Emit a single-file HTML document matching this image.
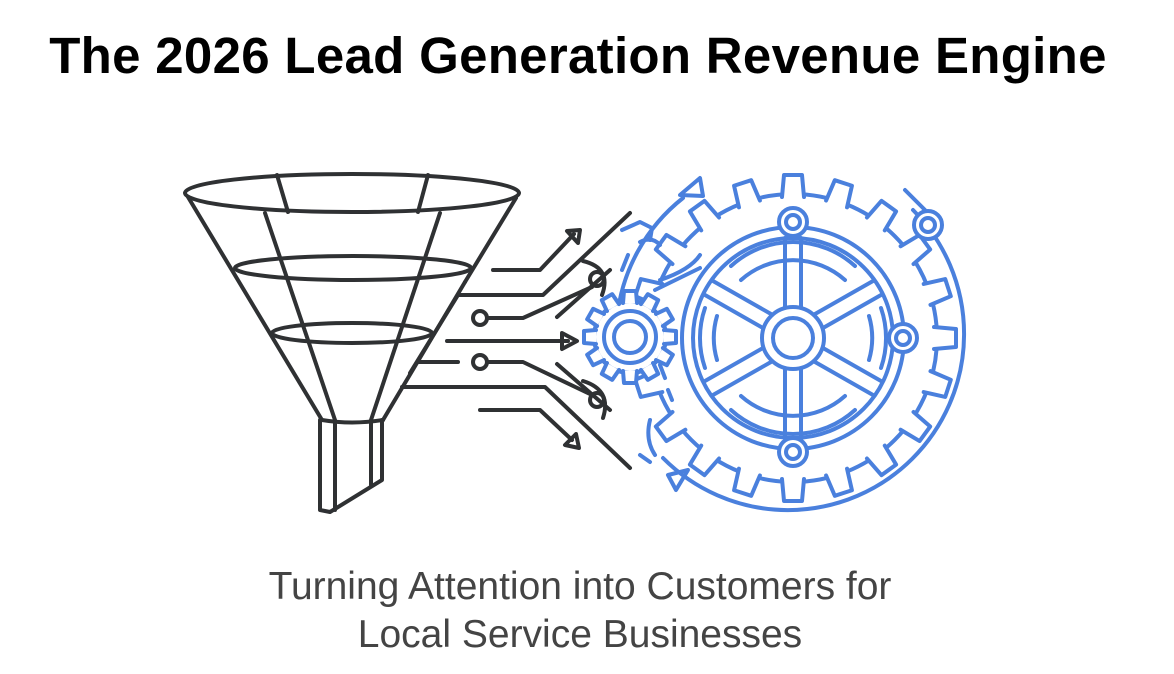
<!DOCTYPE html>
<html><head><meta charset="utf-8"><style>
html,body{margin:0;padding:0;background:#fff;}
body{width:1174px;height:674px;position:relative;overflow:hidden;font-family:"Liberation Sans",sans-serif;}
h1{position:absolute;top:26px;left:0;width:1156px;text-align:center;margin:0;font-size:51px;font-weight:bold;color:#000;letter-spacing:0.3px;}
.sub{position:absolute;top:563px;left:0;width:1160px;text-align:center;font-size:39px;color:#444;line-height:48px;font-weight:normal;}
svg{position:absolute;left:0;top:0;}
</style></head><body>
<h1>The 2026 Lead Generation Revenue Engine</h1>
<svg width="1174" height="674" viewBox="0 0 1174 674">
<defs>
<path id="t" fill="#fff" d="M-11 -141 L-9 -163 L9 -163 L11 -141"/>
<path id="s" fill="#fff" d="M-7 -34 L-6 -46 L6 -46 L7 -34"/>
</defs>
<g fill="none" stroke="#2f3133" stroke-width="4" stroke-linecap="round" stroke-linejoin="round">
<ellipse cx="352" cy="193" rx="167" ry="19"/>
<path d="M188 197 L322 420 M516 198 L465 282"/>
<path d="M465 282 L383 420"/>
<path d="M277 175 L288 212 M428 175 L418 212 M265 213 L335 420 M440 213 L371 420"/>
<ellipse cx="353" cy="268" rx="118" ry="12"/>
<ellipse cx="352" cy="333" rx="80" ry="10"/>
<path d="M322 420 Q352 425 383 420"/>
<path d="M320 420 L320 510 L330 512 L382 480 L382 420 M335 422 L335 510 M371 422 L371 485"/>
<path d="M493 270 L540 270 L574 234 M567 231 L580 230 L578 243 Z"/>
<path d="M458 295 L543 295 L630 213 M458 295 L410 373"/>
<circle cx="480" cy="318" r="7"/>
<path d="M487 318 L523 318 L592 287"/>
<circle cx="597" cy="279" r="7"/>
<path d="M583 261 Q612 268 602 295 M557 317 L610 270"/>
<path d="M447 341 L568 341 M562 333 L577 341 L562 349 Z"/>
<path d="M418 362 L458 362"/>
<circle cx="480" cy="362" r="7"/>
<path d="M487 362 L523 362 L592 395"/>
<circle cx="597" cy="400" r="7"/>
<path d="M583 381 Q612 390 603 418 M557 364 L610 410"/>
<path d="M402 387 L545 387 L630 468"/>
<path d="M480 410 L540 410 L572 440 M565 445 L579 448 L576 434 Z"/>
</g>
<g fill="none" stroke="#4a80dd" stroke-width="4" stroke-linecap="round" stroke-linejoin="round">
<g transform="translate(793,338)">
<path d="M-176 -20 A176 176 0 0 1 -110 -140 M120 -128 A176 176 0 0 1 -130 120"/>
<circle r="144" fill="#fff"/>
<use href="#t"/><use href="#t" transform="rotate(18)"/><use href="#t" transform="rotate(36)"/><use href="#t" transform="rotate(54)"/><use href="#t" transform="rotate(72)"/><use href="#t" transform="rotate(90)"/><use href="#t" transform="rotate(108)"/><use href="#t" transform="rotate(126)"/><use href="#t" transform="rotate(144)"/><use href="#t" transform="rotate(162)"/><use href="#t" transform="rotate(180)"/><use href="#t" transform="rotate(198)"/><use href="#t" transform="rotate(216)"/><use href="#t" transform="rotate(234)"/><use href="#t" transform="rotate(252)"/><use href="#t" transform="rotate(270)"/><use href="#t" transform="rotate(288)"/><use href="#t" transform="rotate(306)"/><use href="#t" transform="rotate(324)"/><use href="#t" transform="rotate(342)"/>
<circle r="111"/>
<circle r="100"/>
<circle r="31"/><circle r="20"/>
<path d="M-8 -31 L-8 -100 M8 -31 L8 -100 M-8 31 L-8 100 M8 31 L8 100"/>
<path d="M22 -24 L80 -57 M30 -10 L88 -43 M-22 -24 L-80 -57 M-30 -10 L-88 -43 M22 24 L80 57 M30 10 L88 43 M-22 24 L-80 57 M-30 10 L-88 43"/>
<path d="M-62 -72 A92 92 0 0 1 62 -72 M-88 -30 A92 92 0 0 0 -88 30 M88 -30 A92 92 0 0 1 88 30 M-62 72 A92 92 0 0 0 62 72"/>
<path d="M-52 -58 A78 78 0 0 1 52 -58 M-76 -22 A78 78 0 0 0 -76 22 M76 -22 A78 78 0 0 1 76 22 M-52 58 A78 78 0 0 0 52 58"/>
<circle cx="0" cy="-116" r="14" fill="#fff"/><circle cx="0" cy="-116" r="7"/>
<circle cx="110" cy="0" r="14" fill="#fff"/><circle cx="110" cy="0" r="7"/>
<circle cx="0" cy="114" r="14" fill="#fff"/><circle cx="0" cy="114" r="7"/>
</g>
<path d="M680 195 L700 178 L703 196 Z"/>
<path d="M668 475 L688 470 L676 490 Z"/>
<circle cx="928" cy="225" r="14" fill="#fff"/><circle cx="928" cy="225" r="7"/>
<path d="M905 190 L925 210"/>
<g transform="translate(630,337)">
<circle r="36" fill="#fff"/>
<use href="#s"/><use href="#s" transform="rotate(30)"/><use href="#s" transform="rotate(60)"/><use href="#s" transform="rotate(90)"/><use href="#s" transform="rotate(120)"/><use href="#s" transform="rotate(150)"/><use href="#s" transform="rotate(180)"/><use href="#s" transform="rotate(210)"/><use href="#s" transform="rotate(240)"/><use href="#s" transform="rotate(270)"/><use href="#s" transform="rotate(300)"/><use href="#s" transform="rotate(330)"/>
<circle r="26"/><circle r="16"/>
</g>
<path d="M622 230 L640 222 L652 228 L650 240 M628 255 L622 270 M640 242 Q652 236 660 245"/>
<path d="M660 280 Q690 270 700 255 M655 290 L700 268"/>
<path d="M650 420 Q645 440 655 455 M640 455 L650 462 M668 390 L672 400 M660 365 L665 378"/>
</g>
</svg>
<div class="sub">Turning Attention into Customers for<br>Local Service Businesses</div>
</body></html>
